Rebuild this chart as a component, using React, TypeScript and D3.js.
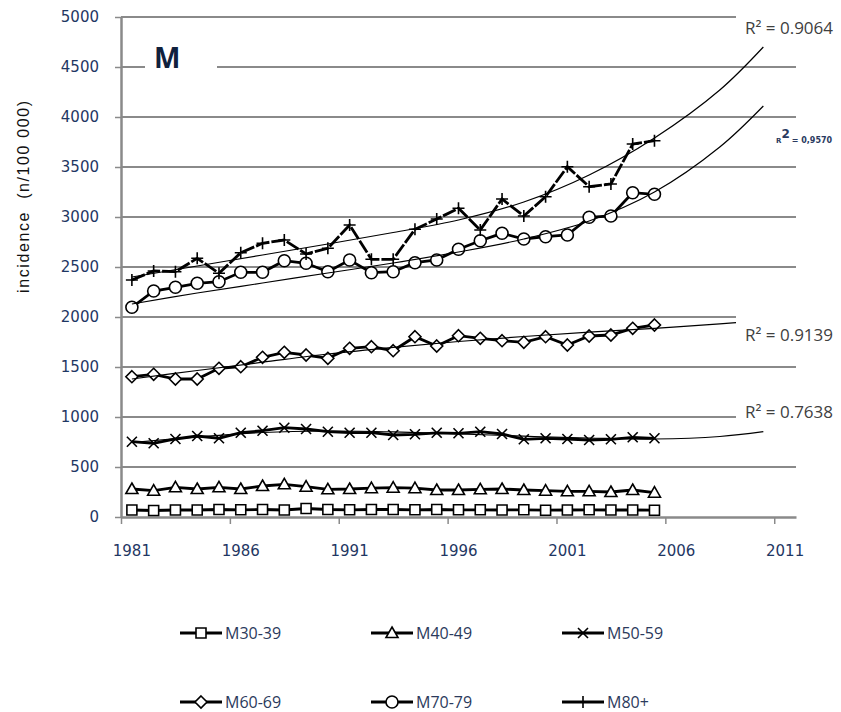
import React, { useEffect, useRef } from "react";
import * as d3 from "d3";

// yearly categories of the data
const years = [
  1981, 1982, 1983, 1984, 1985, 1986, 1987, 1988, 1989, 1990, 1991, 1992, 1993,
  1994, 1995, 1996, 1997, 1998, 1999, 2000, 2001, 2002, 2003, 2004, 2005,
];
// category axis runs up to 2011
const axisYears = [1981, 1986, 1991, 1996, 2001, 2006, 2011];
const lastCategory = 2011;
const yTicks = [0, 500, 1000, 1500, 2000, 2500, 3000, 3500, 4000, 4500, 5000];

// incidence per 100 000, men by age group
const m30 = [70, 65, 70, 70, 75, 72, 75, 70, 85, 75, 72, 75, 75, 72, 75, 72, 72, 70, 72, 68, 70, 72, 70, 70, 68];
const m40 = [280, 263, 297, 280, 297, 280, 310, 327, 303, 277, 280, 288, 293, 288, 270, 270, 277, 280, 270, 263, 257, 257, 250, 270, 243];
const m50 = [753, 737, 780, 810, 787, 843, 863, 893, 880, 853, 843, 843, 820, 827, 842, 837, 853, 830, 777, 787, 780, 770, 777, 797, 787];
const m60 = [1403, 1427, 1380, 1380, 1487, 1503, 1597, 1647, 1620, 1587, 1687, 1703, 1663, 1803, 1710, 1813, 1787, 1763, 1747, 1803, 1720, 1810, 1820, 1887, 1920];
const m70 = [2097, 2260, 2297, 2337, 2353, 2447, 2447, 2563, 2537, 2453, 2570, 2443, 2453, 2543, 2570, 2677, 2763, 2837, 2780, 2803, 2820, 2997, 3010, 3243, 3227];
const m80 = [2370, 2460, 2453, 2587, 2437, 2643, 2737, 2770, 2630, 2687, 2920, 2577, 2577, 2877, 2980, 3087, 2870, 3180, 3010, 3203, 3503, 3303, 3330, 3730, 3763];

const seriesNames = ["M30-39", "M40-49", "M50-59", "M60-69", "M70-79", "M80+"];
const seriesMarkers = ["square", "triangle", "x", "diamond", "circle", "plus"];

// trend lines
const trendYears = [1981, 1984, 1987, 1990, 1993, 1996, 1999, 2002, 2005, 2008, 2010];
const trend50 = [745, 800, 845, 860, 852, 832, 808, 790, 780, 805, 853];
const trend60 = [1380, 1465, 1548, 1630, 1697, 1755, 1805, 1848, 1887, 1932, 1962];
const trend70 = [2130, 2240, 2340, 2440, 2540, 2650, 2780, 2960, 3250, 3700, 4110];
const trend80 = [2400, 2510, 2620, 2730, 2845, 2970, 3150, 3420, 3790, 4270, 4700];

const r2Values = ["0.9064", "0,9570", "0.9139", "0.7638"];

function markerPath(kind: string) {
  switch (kind) {
    case "square":
      return "M-5,-5H5V5H-5Z";
    case "triangle":
      return "M0,-6L6,4.5L-6,4.5Z";
    case "x":
      return "M-5,-5L5,5M-5,5L5,-5";
    case "diamond":
      return "M0,-6L6,0L0,6L-6,0Z";
    case "circle":
      return "M6,0A6,6 0 1,1 -6,0A6,6 0 1,1 6,0Z";
    default:
      return "M-6,0H6M0,-6V6";
  }
}

function Chart() {
  const ref = useRef<SVGSVGElement>(null);

  useEffect(() => {
    const svg = d3.select(ref.current);
    svg.selectAll("*").remove();

    const catYears = d3.range(1981, lastCategory + 1);
    const x = d3.scaleBand<number>().domain(catYears).range([121, 796]).padding(0);
    const bw = x.bandwidth();
    const cx = (yr: number) => {
      // fractional years allowed for the trend samples
      const base = Math.floor(yr);
      return (x(base) as number) + bw / 2 + (yr - base) * bw;
    };
    const y = d3.scaleLinear().domain([0, 5000]).range([517, 17]);

    const gray = "#8a8a8a";

    // gridlines
    svg.append("g")
      .selectAll("line")
      .data(yTicks.filter((d) => d > 0))
      .join("line")
      .attr("x1", 121)
      .attr("x2", 796)
      .attr("y1", (d) => y(d))
      .attr("y2", (d) => y(d))
      .attr("stroke", gray)
      .attr("stroke-width", 2);

    // y axis
    const yAxis = svg.append("g").attr("transform", "translate(121,0)")
      .call(d3.axisLeft(y).tickValues(yTicks).tickFormat(d3.format("d")).tickSize(6).tickSizeOuter(0).tickPadding(16));
    yAxis.select(".domain").attr("stroke", gray).attr("stroke-width", 2.5);
    yAxis.selectAll(".tick line").attr("stroke", gray).attr("stroke-width", 1.5);
    yAxis.selectAll(".tick text")
      .attr("font-family", "DejaVu Sans")
      .attr("font-size", 15)
      .attr("fill", "#1f3763");

    // x axis (category boundaries get the ticks, labels sit on the categories)
    const xl = d3.scaleLinear().domain([1981, lastCategory + 1]).range([121, 796]);
    const xAxis = svg.append("g").attr("transform", "translate(0,517)")
      .call(d3.axisBottom(xl).tickValues(axisYears).tickSize(7).tickSizeOuter(0).tickFormat(() => ""));
    xAxis.select(".domain").attr("stroke", gray).attr("stroke-width", 2.5);
    xAxis.selectAll(".tick line").attr("stroke", gray).attr("stroke-width", 1.5);
    svg.append("g")
      .selectAll("text")
      .data(axisYears)
      .join("text")
      .attr("x", (d) => cx(d))
      .attr("y", 556)
      .attr("text-anchor", "middle")
      .attr("font-family", "DejaVu Sans")
      .attr("font-size", 15)
      .attr("fill", "#1f3763")
      .text((d) => String(d));

    // axis title
    svg.append("text")
      .attr("transform", "translate(29,197) rotate(-90)")
      .attr("text-anchor", "middle")
      .attr("font-family", "Liberation Sans")
      .attr("font-size", 16)
      .attr("fill", "#111")
      .attr("textLength", 192)
      .attr("xml:space", "preserve")
      .text("incidence  (n/100 000)");

    // series
    const allSeries = [m30, m40, m50, m60, m70, m80];
    const line = d3.line<number>()
      .x((_, i) => cx(years[i]))
      .y((d) => y(d));

    allSeries.forEach((vals, k) => {
      svg.append("path")
        .attr("d", line(vals))
        .attr("fill", "none")
        .attr("stroke", "#000")
        .attr("stroke-width", 2.8)
        .attr("stroke-dasharray", k === 5 ? "14 2" : null);
      svg.append("g")
        .selectAll("path")
        .data(vals)
        .join("path")
        .attr("transform", (d, i) => `translate(${cx(years[i])},${y(d)})`)
        .attr("d", markerPath(seriesMarkers[k]))
        .attr("fill", "#fff")
        .attr("stroke", "#000")
        .attr("stroke-width", 1.6);
    });

    // trend lines
    const trendLine = d3.line<number>()
      .x((_, i) => cx(trendYears[i]))
      .y((d) => y(d))
      .curve(d3.curveCatmullRom);
    [trend50, trend60, trend70, trend80].forEach((vals) => {
      svg.append("path")
        .attr("d", trendLine(vals))
        .attr("fill", "none")
        .attr("stroke", "#000")
        .attr("stroke-width", 1.2);
    });

    // label boxes cover the gridlines behind them
    const boxes = [
      [736, 8, 32],
      [736, 306, 40],
      [736, 396, 30],
    ];
    svg.append("g")
      .selectAll("rect")
      .data(boxes)
      .join("rect")
      .attr("x", (d) => d[0])
      .attr("y", (d) => d[1])
      .attr("width", 105)
      .attr("height", (d) => d[2])
      .attr("fill", "#fff");

    const r2Pos = [
      [745, 34],
      [745, 341],
      [745, 418],
    ];
    [r2Values[0], r2Values[2], r2Values[3]].forEach((v, i) => {
      svg.append("text")
        .attr("x", r2Pos[i][0])
        .attr("y", r2Pos[i][1])
        .attr("font-family", "Open Sans")
        .attr("font-size", 17)
        .attr("fill", "#404040")
        .text(`R² = ${v}`);
    });

    // the small label of the 70-79 trend
    const small = svg.append("text")
      .attr("x", 776)
      .attr("y", 143)
      .attr("font-family", "DejaVu Sans")
      .attr("font-weight", "bold")
      .attr("fill", "#2a3a60");
    small.append("tspan").attr("font-size", 7).text("R");
    small.append("tspan").attr("font-size", 12).attr("dy", -5).text("2");
    small.append("tspan").attr("font-size", 8).attr("dy", 5).attr("dx", 2).text(`= ${r2Values[1]}`);

    // panel title
    svg.append("rect").attr("x", 145).attr("y", 48).attr("width", 72).attr("height", 30).attr("fill", "#fff");
    svg.append("text")
      .attr("x", 154)
      .attr("y", 68)
      .attr("font-family", "Open Sans")
      .attr("font-weight", "bold")
      .attr("font-size", 28)
      .attr("fill", "#10213d")
      .text("M");

    // legend
    const colX = [180, 371, 562];
    const rowY = [633, 702];
    seriesNames.forEach((name, k) => {
      const gx = colX[k % 3];
      const gy = rowY[Math.floor(k / 3)];
      const g = svg.append("g").attr("transform", `translate(${gx},${gy})`);
      g.append("line")
        .attr("x1", 0)
        .attr("x2", 42)
        .attr("stroke", "#000")
        .attr("stroke-width", 2.8);
      g.append("path")
        .attr("transform", "translate(21,0)")
        .attr("d", markerPath(seriesMarkers[k]))
        .attr("fill", "#fff")
        .attr("stroke", "#000")
        .attr("stroke-width", 1.6);
      g.append("text")
        .attr("x", 45)
        .attr("dy", "0.35em")
        .attr("font-family", "Open Sans")
        .attr("font-size", 16)
        .attr("fill", "#2b3a5c")
        .text(name);
    });
  }, []);

  return (
    <svg
      ref={ref}
      width={841}
      height={712}
      style={{ position: "absolute", left: 0, top: 0, background: "#fff" }}
    />
  );
}

export default function App() {
  return <Chart />;
}
